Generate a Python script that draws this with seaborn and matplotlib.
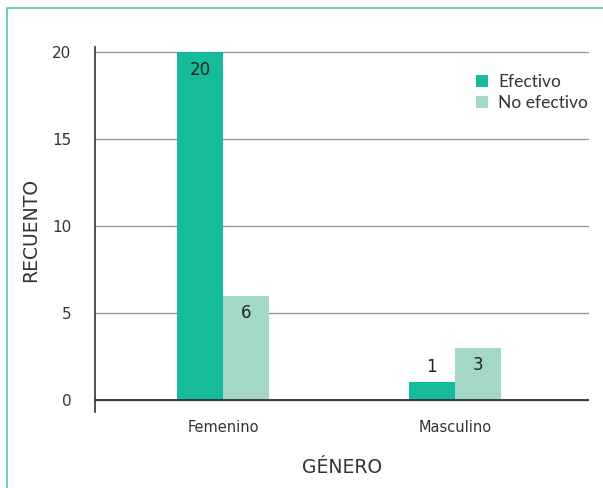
import pandas as pd
import matplotlib.pyplot as plt
import seaborn as sns
from matplotlib.patches import Rectangle

# --- Daten ---
generos = ['Femenino', 'Masculino']
efectivo = [20, 1]
no_efectivo = [6, 3]
grupos = ['Efectivo', 'No efectivo']
colores = {'Efectivo': '#16BC9A', 'No efectivo': '#A3D8C6'}

df = pd.DataFrame({
    'genero': generos * 2,
    'grupo': [grupos[0]] * len(generos) + [grupos[1]] * len(generos),
    'recuento': efectivo + no_efectivo,
})

sns.set_style('white')
plt.rcParams['font.family'] = ['DejaVu Sans']

fig = plt.figure(figsize=(6.03, 4.88), dpi=100)
ax = fig.add_axes([95 / 603, 76 / 488, 494 / 603, 365 / 488])

sns.barplot(data=df, x='genero', y='recuento', hue='grupo', order=generos,
            hue_order=grupos, palette=colores, width=0.4, saturation=1,
            linewidth=0, ax=ax, zorder=3)

# --- Beschriftung der Balken ---
for cont in ax.containers:
    for rect in cont:
        v = rect.get_height()
        ax.text(rect.get_x() + rect.get_width() / 2, max(v - 1.0, 1.9),
                f'{v:.0f}', ha='center', va='center', fontsize=12,
                color='#222222', zorder=4)

ax.set_xlim(-0.552, 1.578)
ax.set_ylim(-0.7, 20.3)
ax.set_yticks([0, 5, 10, 15, 20])
ax.yaxis.grid(True, color='#9a9a9a', linewidth=1, zorder=0)
ax.axhline(0, color='#222222', linewidth=1.2, zorder=4)
ax.tick_params(axis='y', length=12, width=1, color='#9a9a9a',
               labelsize=11, labelcolor='#333333', pad=5)
ax.tick_params(axis='x', length=0, labelsize=10.5, labelcolor='#333333', pad=6)

for s in ['top', 'right', 'bottom']:
    ax.spines[s].set_visible(False)
ax.spines['left'].set_color('#333333')
ax.spines['left'].set_linewidth(1.2)

ax.set_xlabel('GÉNERO', fontsize=13.5, color='#333333', labelpad=16)
ax.set_ylabel('RECUENTO', fontsize=13.5, color='#333333', labelpad=9)

leg = ax.legend(loc='upper left', bbox_to_anchor=(0.757, 0.945), frameon=False,
                prop={'family': 'Lato', 'size': 12.5}, handlelength=0.7,
                handleheight=0.7, handletextpad=0.6, labelspacing=0.3,
                borderaxespad=0)
for t in leg.get_texts():
    t.set_color('#333333')

# Rahmen um das Bild
fig.patches.append(Rectangle((7 / 603, -0.1), 1.2, (488 - 8) / 488 + 0.1,
                             transform=fig.transFigure, fill=False,
                             edgecolor='#4DCBAE', linewidth=1.2))

fig.savefig('out.png', dpi=100)
